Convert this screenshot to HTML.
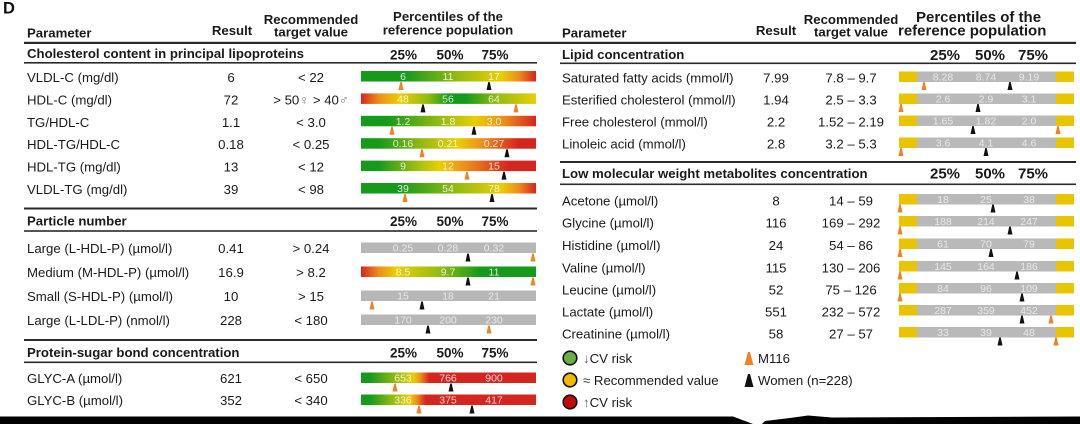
<!DOCTYPE html>
<html><head><meta charset="utf-8"><style>
html,body{margin:0;padding:0;background:#fff;}
svg{display:block;}
.t{font-size:13.2px;fill:#1a1a1a;}
.b{font-size:13.2px;font-weight:bold;fill:#1a1a1a;}
.p{font-size:13.5px;font-weight:bold;fill:#1a1a1a;text-anchor:middle;}
.pr{font-size:15px;font-weight:bold;fill:#1a1a1a;text-anchor:middle;}
.m{text-anchor:middle;}
.lw{font-size:10.5px;fill:#fff;fill-opacity:0.82;text-anchor:middle;}
.lg{font-size:10.5px;fill:#e8e8e8;text-anchor:middle;}
.mo{fill:#f08224;}
.mb{fill:#111;}
</style></head><body>
<svg xmlns="http://www.w3.org/2000/svg" width="1080" height="424" viewBox="0 0 1080 424" font-family="'Liberation Sans', 'DejaVu Sans', Arial, sans-serif">
<defs>
<linearGradient id="g1" x1="0" x2="1" y1="0" y2="0"><stop offset="0" stop-color="#159a1b"/><stop offset=".25" stop-color="#159a1b"/><stop offset=".55" stop-color="#94bb12"/><stop offset=".8" stop-color="#e9cf04"/><stop offset=".9" stop-color="#ec8d1c"/><stop offset="1" stop-color="#d5251f"/></linearGradient>
<linearGradient id="g2" x1="0" x2="1" y1="0" y2="0"><stop offset="0" stop-color="#d5251f"/><stop offset=".1" stop-color="#ec8d1c"/><stop offset=".22" stop-color="#e9cf04"/><stop offset=".38" stop-color="#94bb12"/><stop offset=".5" stop-color="#159a1b"/><stop offset=".6" stop-color="#159a1b"/><stop offset=".78" stop-color="#94bb12"/><stop offset="1" stop-color="#e9cf04"/></linearGradient>
<linearGradient id="g3" x1="0" x2="1" y1="0" y2="0"><stop offset="0" stop-color="#159a1b"/><stop offset=".15" stop-color="#159a1b"/><stop offset=".45" stop-color="#94bb12"/><stop offset=".65" stop-color="#e9cf04"/><stop offset=".82" stop-color="#ec8d1c"/><stop offset="1" stop-color="#d5251f"/></linearGradient>
<linearGradient id="g4" x1="0" x2="1" y1="0" y2="0"><stop offset="0" stop-color="#159a1b"/><stop offset=".1" stop-color="#159a1b"/><stop offset=".35" stop-color="#94bb12"/><stop offset=".55" stop-color="#e9cf04"/><stop offset=".7" stop-color="#ec8d1c"/><stop offset=".9" stop-color="#d5251f"/><stop offset="1" stop-color="#d5251f"/></linearGradient>
<linearGradient id="g5" x1="0" x2="1" y1="0" y2="0"><stop offset="0" stop-color="#159a1b"/><stop offset=".1" stop-color="#159a1b"/><stop offset=".3" stop-color="#94bb12"/><stop offset=".45" stop-color="#e9cf04"/><stop offset=".6" stop-color="#ec8d1c"/><stop offset=".85" stop-color="#d5251f"/><stop offset="1" stop-color="#d5251f"/></linearGradient>
<linearGradient id="g6" x1="0" x2="1" y1="0" y2="0"><stop offset="0" stop-color="#159a1b"/><stop offset=".22" stop-color="#159a1b"/><stop offset=".55" stop-color="#94bb12"/><stop offset=".8" stop-color="#e9cf04"/><stop offset=".9" stop-color="#ec8d1c"/><stop offset="1" stop-color="#d5251f"/></linearGradient>
<linearGradient id="gm" x1="0" x2="1" y1="0" y2="0"><stop offset="0" stop-color="#d5251f"/><stop offset=".1" stop-color="#ec8d1c"/><stop offset=".2" stop-color="#e9cf04"/><stop offset=".45" stop-color="#94bb12"/><stop offset=".68" stop-color="#159a1b"/><stop offset="1" stop-color="#159a1b"/></linearGradient>
<linearGradient id="ga" x1="0" x2="1" y1="0" y2="0"><stop offset="0" stop-color="#159a1b"/><stop offset=".05" stop-color="#159a1b"/><stop offset=".2" stop-color="#94bb12"/><stop offset=".3" stop-color="#e9cf04"/><stop offset=".34" stop-color="#ec8d1c"/><stop offset=".39" stop-color="#d5251f"/><stop offset="1" stop-color="#d5251f"/></linearGradient>
<linearGradient id="gb" x1="0" x2="1" y1="0" y2="0"><stop offset="0" stop-color="#159a1b"/><stop offset=".05" stop-color="#159a1b"/><stop offset=".18" stop-color="#94bb12"/><stop offset=".28" stop-color="#e9cf04"/><stop offset=".32" stop-color="#ec8d1c"/><stop offset=".37" stop-color="#d5251f"/><stop offset="1" stop-color="#d5251f"/></linearGradient>
</defs>
<rect width="1080" height="424" fill="#fff"/>

<!-- Panel label -->
<text x="3" y="13.5" font-size="16.5" font-weight="bold" fill="#111">D</text>

<!-- LEFT HEADER -->
<text class="b" x="27" y="37.5">Parameter</text>
<text class="b m" x="232" y="35">Result</text>
<text class="b m" x="311" y="24">Recommended</text>
<text class="b m" x="311" y="36.5">target value</text>
<text class="b m" x="448" y="21">Percentiles of the</text>
<text class="b m" x="448" y="34.5">reference population</text>

<!-- RIGHT HEADER -->
<text class="b" x="562" y="37.5">Parameter</text>
<text class="b m" x="776" y="35">Result</text>
<text class="b m" x="851" y="24">Recommended</text>
<text class="b m" x="851" y="36.5">target value</text>
<text class="b" x="916" y="22" style="font-size:15px">Percentiles of the</text>
<text class="b" x="898" y="35.5" style="font-size:15px">reference population</text>

<!-- LINES -->
<g fill="#2a2a2a">
<rect x="24" y="41.8" width="1052" height="2.2"/>
<rect x="24" y="62" width="513" height="1.6"/>
<rect x="24" y="207.5" width="513" height="2"/>
<rect x="24" y="230.2" width="513" height="1.6"/>
<rect x="24" y="339" width="513" height="2"/>
<rect x="24" y="361.5" width="513" height="1.6"/>
<rect x="560" y="62.5" width="516" height="1.6"/>
<rect x="560" y="161" width="516" height="2"/>
<rect x="560" y="183.5" width="516" height="1.6"/>
</g>

<!-- LEFT SECTION HEADERS -->
<text class="b" x="27" y="58">Cholesterol content in principal lipoproteins</text>
<text class="p" x="403.5" y="59.5">25%</text><text class="p" x="450" y="59.5">50%</text><text class="p" x="495" y="59.5">75%</text>
<text class="b" x="27" y="225.5">Particle number</text>
<text class="p" x="403.5" y="226">25%</text><text class="p" x="450" y="226">50%</text><text class="p" x="495" y="226">75%</text>
<text class="b" x="27" y="357">Protein-sugar bond concentration</text>
<text class="p" x="403.5" y="357.5">25%</text><text class="p" x="450" y="357.5">50%</text><text class="p" x="495" y="357.5">75%</text>

<!-- RIGHT SECTION HEADERS -->
<text class="b" x="562" y="59">Lipid concentration</text>
<text class="pr" x="945" y="60">25%</text><text class="pr" x="990" y="60">50%</text><text class="pr" x="1033" y="60">75%</text>
<text class="b" x="562" y="178">Low molecular weight metabolites concentration</text>
<text class="pr" x="945" y="178.5">25%</text><text class="pr" x="990" y="178.5">50%</text><text class="pr" x="1033" y="178.5">75%</text>

<!-- LEFT ROWS: cholesterol -->
<g class="t">
<text x="27" y="82">VLDL-C (mg/dl)</text><text class="m" x="231" y="82">6</text><text class="m" x="311" y="82">&lt; 22</text>
<text x="27" y="104.4">HDL-C (mg/dl)</text><text class="m" x="231" y="104.4">72</text><text class="m" x="311" y="104.4">&gt; 50<tspan fill="#7c7c96">♀</tspan> &gt; 40<tspan fill="#7c7c96">♂</tspan></text>
<text x="27" y="126.8">TG/HDL-C</text><text class="m" x="231" y="126.8">1.1</text><text class="m" x="311" y="126.8">&lt; 3.0</text>
<text x="27" y="149.2">HDL-TG/HDL-C</text><text class="m" x="231" y="149.2">0.18</text><text class="m" x="311" y="149.2">&lt; 0.25</text>
<text x="27" y="171.6">HDL-TG (mg/dl)</text><text class="m" x="231" y="171.6">13</text><text class="m" x="311" y="171.6">&lt; 12</text>
<text x="27" y="194">VLDL-TG (mg/dl)</text><text class="m" x="231" y="194">39</text><text class="m" x="311" y="194">&lt; 98</text>
<!-- particle -->
<text x="27" y="253">Large (L-HDL-P) (µmol/l)</text><text class="m" x="231" y="253">0.41</text><text class="m" x="311" y="253">&gt; 0.24</text>
<text x="27" y="277">Medium (M-HDL-P) (µmol/l)</text><text class="m" x="231" y="277">16.9</text><text class="m" x="311" y="277">&gt; 8.2</text>
<text x="27" y="301">Small (S-HDL-P) (µmol/l)</text><text class="m" x="231" y="301">10</text><text class="m" x="311" y="301">&gt; 15</text>
<text x="27" y="325">Large (L-LDL-P) (nmol/l)</text><text class="m" x="231" y="325">228</text><text class="m" x="311" y="325">&lt; 180</text>
<!-- protein -->
<text x="27" y="383">GLYC-A (µmol/l)</text><text class="m" x="231" y="383">621</text><text class="m" x="311" y="383">&lt; 650</text>
<text x="27" y="405">GLYC-B (µmol/l)</text><text class="m" x="231" y="405">352</text><text class="m" x="311" y="405">&lt; 340</text>
</g>

<!-- LEFT BARS -->
<rect x="361" y="71" width="175" height="10.5" fill="url(#g1)"/>
<rect x="361" y="93.4" width="175" height="10.5" fill="url(#g2)"/>
<rect x="361" y="115.8" width="175" height="10.5" fill="url(#g3)"/>
<rect x="361" y="138.2" width="175" height="10.5" fill="url(#g4)"/>
<rect x="361" y="160.6" width="175" height="10.5" fill="url(#g5)"/>
<rect x="361" y="183" width="175" height="10.5" fill="url(#g6)"/>
<rect x="361" y="242.5" width="175" height="10.5" fill="#b7b7b7"/>
<rect x="361" y="266.5" width="175" height="10.5" fill="url(#gm)"/>
<rect x="361" y="290.5" width="175" height="10.5" fill="#b7b7b7"/>
<rect x="361" y="314.5" width="175" height="10.5" fill="#b7b7b7"/>
<rect x="361" y="372.5" width="175" height="10.5" fill="url(#ga)"/>
<rect x="361" y="394.5" width="175" height="10.5" fill="url(#gb)"/>

<!-- LEFT BAR LABELS -->
<g class="lw">
<text x="403" y="80">6</text><text x="448" y="80">11</text><text x="494" y="80">17</text>
<text x="403" y="102.4">48</text><text x="448" y="102.4">56</text><text x="494" y="102.4">64</text>
<text x="403" y="124.8">1.2</text><text x="448" y="124.8">1.8</text><text x="494" y="124.8">3.0</text>
<text x="403" y="147.2">0.16</text><text x="448" y="147.2">0.21</text><text x="494" y="147.2">0.27</text>
<text x="403" y="169.6">9</text><text x="448" y="169.6">12</text><text x="494" y="169.6">15</text>
<text x="403" y="192">39</text><text x="448" y="192">54</text><text x="494" y="192">78</text>
<text x="403" y="275.5">8.5</text><text x="448" y="275.5">9.7</text><text x="494" y="275.5">11</text>
<text x="403" y="381.5">653</text><text x="448" y="381.5">766</text><text x="494" y="381.5">900</text>
<text x="403" y="403.5">336</text><text x="448" y="403.5">375</text><text x="494" y="403.5">417</text>
</g>
<g class="lg">
<text x="403" y="251.5">0.25</text><text x="448" y="251.5">0.28</text><text x="494" y="251.5">0.32</text>
<text x="403" y="299.5">15</text><text x="448" y="299.5">18</text><text x="494" y="299.5">21</text>
<text x="403" y="323.5">170</text><text x="448" y="323.5">200</text><text x="494" y="323.5">230</text>
</g>

<!-- LEFT MARKERS -->
<g>
<polygon class="mo" points="400.3,82 401.7,82 403.5,90 398.5,90"/>
<polygon class="mb" points="488.3,82 489.7,82 491.5,90 486.5,90"/>
<polygon class="mb" points="422.3,104.4 423.7,104.4 425.5,112.4 420.5,112.4"/>
<polygon class="mo" points="515.3,104.4 516.7,104.4 518.5,112.4 513.5,112.4"/>
<polygon class="mo" points="391.3,126.8 392.7,126.8 394.5,134.8 389.5,134.8"/>
<polygon class="mb" points="473.3,126.8 474.7,126.8 476.5,134.8 471.5,134.8"/>
<polygon class="mo" points="421.3,149.2 422.7,149.2 424.5,157.2 419.5,157.2"/>
<polygon class="mb" points="506.3,149.2 507.7,149.2 509.5,157.2 504.5,157.2"/>
<polygon class="mo" points="466.3,171.6 467.7,171.6 469.5,179.6 464.5,179.6"/>
<polygon class="mb" points="503.3,171.6 504.7,171.6 506.5,179.6 501.5,179.6"/>
<polygon class="mo" points="404.3,194 405.7,194 407.5,202 402.5,202"/>
<polygon class="mb" points="491.3,194 492.7,194 494.5,202 489.5,202"/>

<polygon class="mb" points="467.3,253.5 468.7,253.5 470.5,261.5 465.5,261.5"/>
<polygon class="mo" points="532.3,253.5 533.7,253.5 535.5,261.5 530.5,261.5"/>
<polygon class="mb" points="467.3,277.5 468.7,277.5 470.5,285.5 465.5,285.5"/>
<polygon class="mo" points="532.3,277.5 533.7,277.5 535.5,285.5 530.5,285.5"/>
<polygon class="mo" points="371.3,301.5 372.7,301.5 374.5,309.5 369.5,309.5"/>
<polygon class="mb" points="421.3,301.5 422.7,301.5 424.5,309.5 419.5,309.5"/>
<polygon class="mb" points="427.3,325.5 428.7,325.5 430.5,333.5 425.5,333.5"/>
<polygon class="mo" points="488.3,325.5 489.7,325.5 491.5,333.5 486.5,333.5"/>

<polygon class="mo" points="394.3,383.5 395.7,383.5 397.5,391.5 392.5,391.5"/>
<polygon class="mb" points="450.3,383.5 451.7,383.5 453.5,391.5 448.5,391.5"/>
<polygon class="mo" points="418.3,405.5 419.7,405.5 421.5,413.5 416.5,413.5"/>
<polygon class="mb" points="471.3,405.5 472.7,405.5 474.5,413.5 469.5,413.5"/>
</g>

<!-- RIGHT ROWS -->
<g class="t">
<text x="562" y="82.5">Saturated fatty acids (mmol/l)</text><text class="m" x="776" y="82.5">7.99</text><text class="m" x="851" y="82.5">7.8 – 9.7</text>
<text x="562" y="104.5">Esterified cholesterol (mmol/l)</text><text class="m" x="776" y="104.5">1.94</text><text class="m" x="851" y="104.5">2.5 – 3.3</text>
<text x="562" y="126.5">Free cholesterol (mmol/l)</text><text class="m" x="776" y="126.5">2.2</text><text class="m" x="851" y="126.5">1.52 – 2.19</text>
<text x="562" y="148.5">Linoleic acid (mmol/l)</text><text class="m" x="776" y="148.5">2.8</text><text class="m" x="851" y="148.5">3.2 – 5.3</text>

<text x="562" y="205.5">Acetone (µmol/l)</text><text class="m" x="776" y="205.5">8</text><text class="m" x="851" y="205.5">14 – 59</text>
<text x="562" y="227.5">Glycine (µmol/l)</text><text class="m" x="776" y="227.5">116</text><text class="m" x="851" y="227.5">169 – 292</text>
<text x="562" y="250">Histidine (µmol/l)</text><text class="m" x="776" y="250">24</text><text class="m" x="851" y="250">54 – 86</text>
<text x="562" y="272.5">Valine (µmol/l)</text><text class="m" x="776" y="272.5">115</text><text class="m" x="851" y="272.5">130 – 206</text>
<text x="562" y="294.5">Leucine (µmol/l)</text><text class="m" x="776" y="294.5">52</text><text class="m" x="851" y="294.5">75 – 126</text>
<text x="562" y="316.5">Lactate (µmol/l)</text><text class="m" x="776" y="316.5">551</text><text class="m" x="851" y="316.5">232 – 572</text>
<text x="562" y="338.5">Creatinine (µmol/l)</text><text class="m" x="776" y="338.5">58</text><text class="m" x="851" y="338.5">27 – 57</text>
</g>

<!-- RIGHT BARS -->
<g>
<g transform="translate(0,71.5)"><rect x="899" width="175" height="10.5" fill="#e9c400"/><rect x="917" width="139" height="10.5" fill="#b9b9b9"/></g>
<g transform="translate(0,93.5)"><rect x="899" width="175" height="10.5" fill="#e9c400"/><rect x="917" width="139" height="10.5" fill="#b9b9b9"/></g>
<g transform="translate(0,115.5)"><rect x="899" width="175" height="10.5" fill="#e9c400"/><rect x="917" width="139" height="10.5" fill="#b9b9b9"/></g>
<g transform="translate(0,137.5)"><rect x="899" width="175" height="10.5" fill="#e9c400"/><rect x="917" width="139" height="10.5" fill="#b9b9b9"/></g>
<g transform="translate(0,194)"><rect x="899" width="175" height="10.5" fill="#e9c400"/><rect x="917" width="139" height="10.5" fill="#b9b9b9"/></g>
<g transform="translate(0,216)"><rect x="899" width="175" height="10.5" fill="#e9c400"/><rect x="917" width="139" height="10.5" fill="#b9b9b9"/></g>
<g transform="translate(0,238.5)"><rect x="899" width="175" height="10.5" fill="#e9c400"/><rect x="917" width="139" height="10.5" fill="#b9b9b9"/></g>
<g transform="translate(0,261)"><rect x="899" width="175" height="10.5" fill="#e9c400"/><rect x="917" width="139" height="10.5" fill="#b9b9b9"/></g>
<g transform="translate(0,283)"><rect x="899" width="175" height="10.5" fill="#e9c400"/><rect x="917" width="139" height="10.5" fill="#b9b9b9"/></g>
<g transform="translate(0,305)"><rect x="899" width="175" height="10.5" fill="#e9c400"/><rect x="917" width="139" height="10.5" fill="#b9b9b9"/></g>
<g transform="translate(0,327)"><rect x="899" width="175" height="10.5" fill="#e9c400"/><rect x="917" width="139" height="10.5" fill="#b9b9b9"/></g>
</g>

<!-- RIGHT BAR LABELS -->
<g class="lg">
<text x="943" y="80.5">8.28</text><text x="986" y="80.5">8.74</text><text x="1029" y="80.5">9.19</text>
<text x="943" y="102.5">2.6</text><text x="986" y="102.5">2.9</text><text x="1029" y="102.5">3.1</text>
<text x="943" y="124.5">1.65</text><text x="986" y="124.5">1.82</text><text x="1029" y="124.5">2.0</text>
<text x="943" y="146.5">3.6</text><text x="986" y="146.5">4.1</text><text x="1029" y="146.5">4.6</text>
<text x="943" y="203">18</text><text x="986" y="203">25</text><text x="1029" y="203">38</text>
<text x="943" y="225">188</text><text x="986" y="225">214</text><text x="1029" y="225">247</text>
<text x="943" y="247.5">61</text><text x="986" y="247.5">70</text><text x="1029" y="247.5">79</text>
<text x="943" y="270">145</text><text x="986" y="270">164</text><text x="1029" y="270">186</text>
<text x="943" y="292">84</text><text x="986" y="292">96</text><text x="1029" y="292">109</text>
<text x="943" y="314">287</text><text x="986" y="314">359</text><text x="1029" y="314">452</text>
<text x="943" y="336">33</text><text x="986" y="336">39</text><text x="1029" y="336">48</text>
</g>

<!-- RIGHT MARKERS -->
<g>
<polygon class="mo" points="923.3,82 924.7,82 926.5,90 921.5,90"/>
<polygon class="mb" points="1009.3,82 1010.7,82 1012.5,90 1007.5,90"/>
<polygon class="mo" points="900.3,104 901.7,104 903.5,112 898.5,112"/>
<polygon class="mb" points="977.3,104 978.7,104 980.5,112 975.5,112"/>
<polygon class="mb" points="972.3,126 973.7,126 975.5,134 970.5,134"/>
<polygon class="mo" points="1057.3,126 1058.7,126 1060.5,134 1055.5,134"/>
<polygon class="mo" points="900.3,148 901.7,148 903.5,156 898.5,156"/>
<polygon class="mb" points="985.3,148 986.7,148 988.5,156 983.5,156"/>

<polygon class="mo" points="899.3,204.5 900.7,204.5 902.5,212.5 897.5,212.5"/>
<polygon class="mb" points="992.3,204.5 993.7,204.5 995.5,212.5 990.5,212.5"/>
<polygon class="mo" points="899.3,226.5 900.7,226.5 902.5,234.5 897.5,234.5"/>
<polygon class="mb" points="1009.3,226.5 1010.7,226.5 1012.5,234.5 1007.5,234.5"/>
<polygon class="mo" points="899.3,249 900.7,249 902.5,257 897.5,257"/>
<polygon class="mb" points="990.3,249 991.7,249 993.5,257 988.5,257"/>
<polygon class="mo" points="899.3,271.5 900.7,271.5 902.5,279.5 897.5,279.5"/>
<polygon class="mb" points="1016.3,271.5 1017.7,271.5 1019.5,279.5 1014.5,279.5"/>
<polygon class="mo" points="899.3,293.5 900.7,293.5 902.5,301.5 897.5,301.5"/>
<polygon class="mb" points="1021.3,293.5 1022.7,293.5 1024.5,301.5 1019.5,301.5"/>
<polygon class="mb" points="1021.3,315.5 1022.7,315.5 1024.5,323.5 1019.5,323.5"/>
<polygon class="mo" points="1050.3,315.5 1051.7,315.5 1053.5,323.5 1048.5,323.5"/>
<polygon class="mb" points="999.3,337.5 1000.7,337.5 1002.5,345.5 997.5,345.5"/>
<polygon class="mo" points="1055.3,337.5 1056.7,337.5 1058.5,345.5 1053.5,345.5"/>
</g>

<!-- LEGEND -->
<circle cx="570" cy="358" r="6.8" fill="#6aaf45" stroke="#111" stroke-width="1.6"/>
<circle cx="570" cy="380" r="6.8" fill="#f3b800" stroke="#111" stroke-width="1.6"/>
<circle cx="570" cy="402" r="6.8" fill="#c40a0a" stroke="#111" stroke-width="1.6"/>
<text class="t" x="583" y="363"><tspan fill="#666">↓</tspan>CV risk</text>
<text class="t" x="583" y="385"><tspan fill="#444">≈</tspan> Recommended value</text>
<text class="t" x="583" y="407"><tspan fill="#666">↑</tspan>CV risk</text>
<polygon class="mo" points="748,352 750,352 753.5,365 744.5,365"/>
<text class="t" x="758" y="363">M116</text>
<polygon class="mb" points="748,374 750,374 753.5,387 744.5,387"/>
<text class="t" x="758" y="385">Women (n=228)</text>

<!-- BOTTOM BAND -->
<polygon fill="#000" points="0,416.5 733,416.5 753,424 762,424 765,421 790,418 808,415.5 832,417.5 1080,416.5 1080,424 0,424"/>
</svg>
</body></html>
